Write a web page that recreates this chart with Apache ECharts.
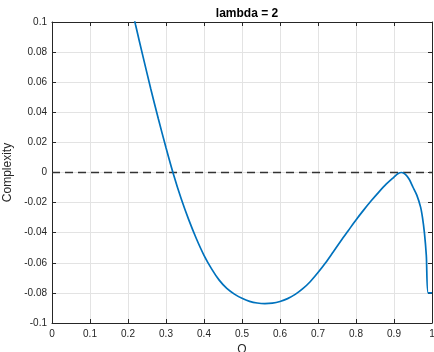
<!DOCTYPE html>
<html>
<head>
<meta charset="utf-8">
<script src="https://cdn.jsdelivr.net/npm/echarts@6/dist/echarts.min.js"></script>
<style>
  html, body { margin: 0; padding: 0; background: #fff; }
  #chart { width: 434px; height: 352px; }
</style>
</head>
<body>
<div id="chart"></div>
<script>
// values
const qValues = [0.20, 0.22, 0.24, 0.26, 0.28, 0.30, 0.32, 0.34, 0.36, 0.38,
  0.40, 0.42, 0.44, 0.46, 0.48, 0.50, 0.52, 0.54, 0.56, 0.58,
  0.60, 0.62, 0.64, 0.66, 0.68, 0.70, 0.72, 0.74, 0.76, 0.78,
  0.80, 0.82, 0.84, 0.86, 0.88, 0.90, 0.91, 0.92, 0.93, 0.94,
  0.95, 0.96, 0.97, 0.975, 0.98, 0.985, 0.99, 1.00]
const complexityValues = [0.121, 0.098, 0.0765, 0.0555, 0.0355, 0.0165, -0.0015, -0.0175, -0.0315, -0.044,
  -0.055, -0.064, -0.0715, -0.077, -0.0808, -0.0836, -0.0856, -0.0867, -0.0871, -0.0868,
  -0.0857, -0.0838, -0.081, -0.0772, -0.0724, -0.0665, -0.06, -0.0528, -0.0455, -0.0385,
  -0.0315, -0.025, -0.0188, -0.013, -0.0076, -0.003, -0.0008, 0.0, -0.0012, -0.0045,
  -0.0098, -0.015, -0.023, -0.03, -0.04, -0.055, -0.08, -0.08]
const zeroLineQ = [0, 1]
const zeroLineValues = [0, 0]

const titleText = 'lambda = 2'
const xName = 'Q'
const yName = 'Complexity'

const font = 'Liberation Sans, Arial, Helvetica, sans-serif'
const axisColor = '#262626'

const fmt = (v) => String(+v.toFixed(2))

const chart = echarts.init(document.getElementById('chart'), null, { renderer: 'canvas' })

const option = {
  animation: false,
  backgroundColor: '#fff',
  title: {
    text: titleText,
    left: 242,
    top: 3,
    textAlign: 'center',
    textStyle: { fontFamily: font, fontSize: 12, fontWeight: 'bold', color: '#000' }
  },
  grid: { left: 52, right: 2, top: 22, bottom: 29, containLabel: false, outerBoundsMode: 'none' },
  xAxis: [
    {
      type: 'value',
      min: 0,
      max: 1,
      interval: 0.1,
      name: xName,
      nameLocation: 'middle',
      nameGap: 14,
      nameTextStyle: { fontFamily: font, fontSize: 12, color: axisColor },
      axisLine: { show: true, onZero: false, lineStyle: { color: axisColor, width: 1 } },
      axisTick: { show: true, inside: true, length: 4, lineStyle: { color: axisColor } },
      axisLabel: { fontFamily: font, fontSize: 10, color: axisColor, margin: 6, formatter: fmt },
      splitLine: { show: true, lineStyle: { color: '#e3e3e3', width: 1 } }
    },
    {
      type: 'value',
      position: 'top',
      min: 0,
      max: 1,
      interval: 0.1,
      axisLine: { show: true, onZero: false, lineStyle: { color: axisColor, width: 1 } },
      axisTick: { show: true, inside: true, length: 4, lineStyle: { color: axisColor } },
      axisLabel: { show: false },
      splitLine: { show: false }
    }
  ],
  yAxis: [
    {
      type: 'value',
      min: -0.1,
      max: 0.1,
      interval: 0.02,
      name: yName,
      nameLocation: 'middle',
      nameGap: 32,
      nameTextStyle: { fontFamily: font, fontSize: 12, color: axisColor },
      axisLine: { show: true, onZero: false, lineStyle: { color: axisColor, width: 1 } },
      axisTick: { show: true, inside: true, length: 4, lineStyle: { color: axisColor } },
      axisLabel: { fontFamily: font, fontSize: 10, color: axisColor, margin: 5, formatter: fmt },
      splitLine: { show: true, lineStyle: { color: '#e3e3e3', width: 1 } }
    },
    {
      type: 'value',
      position: 'right',
      min: -0.1,
      max: 0.1,
      interval: 0.02,
      axisLine: { show: true, onZero: false, lineStyle: { color: axisColor, width: 1 } },
      axisTick: { show: true, inside: true, length: 4, lineStyle: { color: axisColor } },
      axisLabel: { show: false },
      splitLine: { show: false }
    }
  ],
  series: [
    {
      name: 'zero',
      type: 'line',
      xAxisIndex: 0,
      yAxisIndex: 0,
      data: zeroLineQ.map((q, i) => [q, zeroLineValues[i]]),
      showSymbol: false,
      lineStyle: { color: '#333', width: 1.3, type: [8, 5] },
      silent: true
    },
    {
      name: 'complexity',
      type: 'line',
      xAxisIndex: 0,
      yAxisIndex: 0,
      data: qValues.map((q, i) => [q, complexityValues[i]]),
      showSymbol: false,
      clip: true,
      smooth: 0.3,
      lineStyle: { color: '#0072BD', width: 1.7 }
    }
  ]
}

chart.setOption(option)
</script>
</body>
</html>
